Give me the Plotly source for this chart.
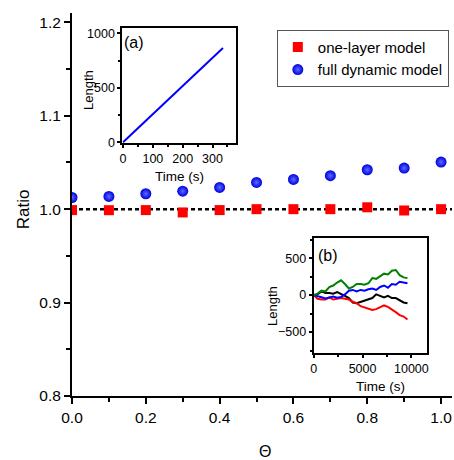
import plotly.graph_objects as go

# ---- main data ----
theta = [0.0, 0.1, 0.2, 0.3, 0.4, 0.5, 0.6, 0.7, 0.8, 0.9, 1.0]
one_layer = [0.999, 0.9989, 0.999, 0.9965, 0.999, 1.0, 1.0, 1.0, 1.002, 0.9986, 1.0]
full_dyn = [1.0125, 1.0136, 1.0165, 1.0193, 1.0233, 1.0286, 1.0318, 1.0358, 1.0422, 1.044, 1.0504]

# ---- inset (a) ----
a_time = [0, 335]
a_len = [0, 865]

# ---- inset (b) ----
b_time = [0, 400, 800, 1200, 1600, 2000, 2400, 2800, 3200, 3600, 4000, 4400, 4800,
          5200, 5600, 6000, 6400, 6800, 7200, 7600, 8000, 8400, 8800, 9200, 9600]
b_green = [0, 20, 60, 50, 110, 130, 170, 200, 150, 90, 110, 150, 150,
           140, 160, 230, 220, 260, 290, 280, 330, 340, 270, 240, 230]
b_blue = [0, -20, -30, -45, -30, -20, -35, -25, 10, 60, 70, 50, 70,
          60, 80, 90, 70, 110, 130, 100, 150, 140, 180, 170, 160]
b_black = [0, 10, 50, 30, 30, 20, 40, 20, -10, -40, -100, -110, -90,
           -70, -60, -40, 10, -10, -30, -10, -40, -40, -70, -100, -110]
b_red = [0, -50, -60, -60, -30, -60, -50, -40, -50, -60, -90, -110, -150,
         -170, -180, -200, -190, -170, -140, -160, -190, -230, -270, -290, -330]

FONT = "Liberation Sans, Arial, sans-serif"

fig = go.Figure()

fig.add_trace(go.Scatter(x=theta, y=one_layer, mode="markers", name="one-layer model",
                         marker=dict(symbol="square", size=10, color="#ff0000")))
fig.add_trace(go.Scatter(x=theta, y=full_dyn, mode="markers", name="full dynamic model",
                         marker=dict(symbol="circle", size=11, color="#0000dd",
                                     gradient=dict(type="radial", color="#5a6aff"))))

fig.add_trace(go.Scatter(x=a_time, y=a_len, mode="lines", line=dict(color="#0000ff", width=2),
                         xaxis="x2", yaxis="y2", showlegend=False))

for vals, col in [(b_black, "#000000"), (b_red, "#ff0000"), (b_blue, "#0000ff"), (b_green, "#008000")]:
    fig.add_trace(go.Scatter(x=b_time, y=vals, mode="lines", line=dict(color=col, width=2),
                             xaxis="x3", yaxis="y3", showlegend=False))

fig.add_shape(type="line", xref="paper", yref="y", x0=0, x1=1, y0=1.0, y1=1.0,
              line=dict(color="black", width=2.5, dash="4px,3px"), layer="below")

ax_common = dict(showgrid=False, zeroline=False, showline=True, linecolor="black",
                 ticks="outside", tickcolor="black")

def inward(rng, side, anchor, overlay, dtick, minor_dtick, ln, mln):
    return dict(range=rng, overlaying=overlay, side=side, anchor=anchor, showgrid=False,
                zeroline=False, showline=False, ticks="inside", tickcolor="black", tickwidth=2,
                ticklen=ln, dtick=dtick, tick0=0, showticklabels=False,
                minor=dict(ticks="inside", dtick=minor_dtick, tick0=0, ticklen=mln,
                           tickcolor="black", tickwidth=2, showgrid=False))

XR = [0, 1.0296]
YR = [0.8, 1.21]
A_XR = [-2, 378]
A_YR = [-8, 1045]
B_XR = [0, 11550]
B_YR = [-790, 770]

fig.update_layout(
    width=454, height=460,
    margin=dict(l=72, r=0, t=13, b=64),
    paper_bgcolor="white", plot_bgcolor="white",
    font=dict(family=FONT, color="black", size=15),
    xaxis=dict(**ax_common, range=XR, linewidth=2, tickwidth=2, ticklen=6, dtick=0.2, tick0=0,
               tickformat=".1f", tickfont=dict(size=15.5),
               minor=dict(ticks="outside", dtick=0.1, tick0=0, ticklen=4, tickwidth=2, tickcolor="black", showgrid=False)),
    yaxis=dict(**ax_common, range=YR, linewidth=2, tickwidth=2, ticklen=6, dtick=0.1, tick0=0.8,
               tickformat=".1f", tickfont=dict(size=15.5),
               minor=dict(ticks="outside", dtick=0.05, tick0=0.8, ticklen=4, tickwidth=2, tickcolor="black", showgrid=False)),
    xaxis4=inward(XR, "top", "y", "x", 0.2, 0.1, 6, 4),
    xaxis2=dict(**ax_common, domain=[0.1327, 0.431], anchor="y2", range=A_XR, linewidth=2, tickwidth=1.5,
                ticklen=3, dtick=100, tick0=0, tickfont=dict(size=12.5), mirror=True, tickformat="d",
                minor=dict(ticks="outside", dtick=50, tick0=0, ticklen=2, tickwidth=1.5, tickcolor="black", showgrid=False)),
    yaxis2=dict(**ax_common, domain=[0.66, 0.96], anchor="x2", range=A_YR, linewidth=2, tickwidth=1.5,
                ticklen=3, dtick=500, tick0=0, tickfont=dict(size=12.5), mirror=True, tickformat="d",
                minor=dict(ticks="outside", dtick=250, tick0=0, ticklen=2, tickwidth=1.5, tickcolor="black", showgrid=False)),
    xaxis5=inward(A_XR, "top", "y2", "x2", 100, 50, 4, 2),
    yaxis5=inward(A_YR, "right", "x2", "y2", 500, 250, 4, 2),
    xaxis3=dict(**ax_common, domain=[0.636, 0.933], anchor="y3", range=B_XR, linewidth=2, tickwidth=1.5,
                ticklen=3, dtick=5000, tick0=0, tickfont=dict(size=12.5), mirror=True, tickformat="d",
                minor=dict(ticks="outside", dtick=2500, tick0=0, ticklen=2, tickwidth=1.5, tickcolor="black", showgrid=False)),
    yaxis3=dict(**ax_common, domain=[0.111, 0.412], anchor="x3", range=B_YR, linewidth=2, tickwidth=1.5,
                ticklen=3, dtick=500, tick0=0, tickfont=dict(size=12.5), mirror=True, tickformat="d",
                minor=dict(ticks="outside", dtick=250, tick0=0, ticklen=2, tickwidth=1.5, tickcolor="black", showgrid=False)),
    xaxis6=inward(B_XR, "top", "y3", "x3", 5000, 2500, 4, 2),
    yaxis6=inward(B_YR, "right", "x3", "y3", 500, 250, 4, 2),
    legend=dict(x=0.539, y=0.956, xanchor="left", yanchor="top", bgcolor="white",
                bordercolor="#555555", borderwidth=1, font=dict(size=15),
                tracegroupgap=0, itemwidth=30),
    showlegend=True,
)

def ann(text, xp, yp, size, angle=0):
    fig.add_annotation(text=text, xref="paper", yref="paper",
                       x=(xp - 72) / 382, y=(396 - yp) / 383, showarrow=False,
                       font=dict(size=size, family=FONT, color="black"),
                       textangle=angle, xanchor="center", yanchor="middle")

ann("Θ", 266, 451, 16)
ann("Ratio", 23, 209, 17, -90)
ann("Length", 88, 90, 13, -90)
ann("Time (s)", 180, 176, 13.5)
ann("(a)", 134, 43, 16)
ann("Length", 273, 306, 13, -90)
ann("Time (s)", 382, 386, 13.5)
ann("(b)", 329, 255, 16)

fig.write_html("out.html")
